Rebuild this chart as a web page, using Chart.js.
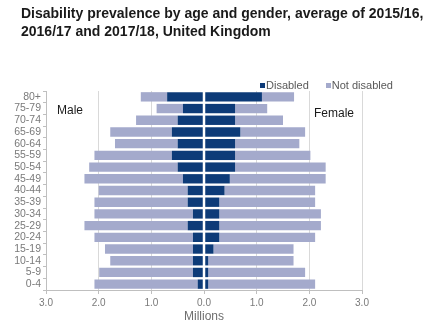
<!DOCTYPE html>
<html>
<head>
<meta charset="utf-8">
<script src="https://cdn.jsdelivr.net/npm/chart.js@4"></script>
<style>
  body { margin: 0; background: #fff; }
  #wrap { position: relative; width: 430px; height: 330px; font-family: "Liberation Sans", Arial, sans-serif; }
  #title { position: absolute; left: 21px; top: 4px; font-size: 14px; font-weight: bold; line-height: 18px; color: #1a1a1a; }
  #legend { position: absolute; left: 260px; top: 79px; font-size: 11px; color: #595959; white-space: nowrap; }
  #legend span.box { display: inline-block; width: 5px; height: 5px; margin-right: 1px; vertical-align: 1px; }
  #legend span.item { margin-right: 17px; }
  .side { position: absolute; font-size: 12px; color: #1a1a1a; }
  canvas { position: absolute; left: 0; top: 0; }
</style>
</head>
<body>
<div id="wrap">
  <canvas id="chart" width="430" height="330"></canvas>
  <div id="title">Disability prevalence by age and gender, average of 2015/16,<br>2016/17 and 2017/18, United Kingdom</div>
  <div id="legend"><span class="item"><span class="box" style="background:#0d3b78"></span>Disabled</span><span><span class="box" style="background:#a4aacc"></span>Not disabled</span></div>
  <div class="side" style="left:57px; top:103px;">Male</div>
  <div class="side" style="left:314px; top:106px;">Female</div>
</div>
<script>
// age bands, top of the pyramid first
const ageGroups = ["80+", "75-79", "70-74", "65-69", "60-64", "55-59", "50-54", "45-49", "40-44",
    "35-39", "30-34", "25-29", "20-24", "15-19", "10-14", "5-9", "0-4"];

// millions
const maleDisabled = [0.70, 0.40, 0.50, 0.61, 0.50, 0.61, 0.50, 0.40, 0.31, 0.31, 0.21, 0.31, 0.21, 0.21, 0.21, 0.21, 0.12];
const maleNotDisabled = [0.50, 0.50, 0.79, 1.17, 1.19, 1.47, 1.68, 1.87, 1.69, 1.77, 1.87, 1.96, 1.87, 1.67, 1.57, 1.78, 1.96];
const femaleDisabled = [1.10, 0.59, 0.59, 0.69, 0.59, 0.59, 0.59, 0.49, 0.39, 0.29, 0.29, 0.29, 0.29, 0.18, 0.08, 0.08, 0.08];
const femaleNotDisabled = [0.61, 0.61, 0.91, 1.23, 1.22, 1.43, 1.72, 1.82, 1.72, 1.82, 1.93, 1.93, 1.82, 1.52, 1.62, 1.84, 2.03];

const xTicks = [-3, -2, -1, 0, 1, 2, 3];

const darkBlue = "#0d3b78";
const lightBlue = "#a4aacc";

// white gap down the middle between male and female bars
const centreGap = {
    id: "centreGap",
    afterDatasetsDraw(chart) {
        const { ctx, chartArea, scales } = chart;
        const x = scales.x.getPixelForValue(0);
        ctx.save();
        ctx.strokeStyle = "#ffffff";
        ctx.lineWidth = 2.5;
        ctx.beginPath();
        ctx.moveTo(x, chartArea.top);
        ctx.lineTo(x, chartArea.bottom);
        ctx.stroke();
        ctx.restore();
    }
};

const ctx = document.getElementById("chart").getContext("2d");
new Chart(ctx, {
    type: "bar",
    data: {
        labels: ageGroups,
        datasets: [
            { label: "Disabled", data: maleDisabled.map((v) => -v), backgroundColor: darkBlue },
            { label: "Not disabled", data: maleNotDisabled.map((v) => -v), backgroundColor: lightBlue },
            { label: "Disabled (female)", data: femaleDisabled, backgroundColor: darkBlue },
            { label: "Not disabled (female)", data: femaleNotDisabled, backgroundColor: lightBlue },
        ],
    },
    options: {
        indexAxis: "y",
        responsive: false,
        animation: false,
        layout: { padding: { top: 91, right: 68, bottom: 0, left: 0 } },
        datasets: { bar: { categoryPercentage: 0.8, barPercentage: 1, borderWidth: 0 } },
        plugins: {
            legend: { display: false },
            title: { display: false },
            tooltip: { enabled: false },
        },
        scales: {
            x: {
                stacked: true,
                min: -3,
                max: 3,
                afterBuildTicks: (scale) => { scale.ticks = xTicks.map((v) => ({ value: v })); },
                afterFit: (scale) => { scale.height = 40; },
                ticks: {
                    callback: (value) => Math.abs(value).toFixed(1),
                    color: "#7a7a7a",
                    font: { family: "Liberation Sans", size: 10 },
                    padding: 3,
                    maxRotation: 0,
                },
                grid: { color: "#d9d9d9", tickLength: 4, tickColor: "#bfbfbf" },
                border: { color: "#bfbfbf" },
                title: {
                    display: true,
                    text: "Millions",
                    color: "#6e6e6e",
                    font: { family: "Liberation Sans", size: 12 },
                    padding: { top: 0, bottom: 6 },
                },
            },
            y: {
                stacked: true,
                afterFit: (scale) => { scale.width = 46; },
                ticks: {
                    color: "#7a7a7a",
                    font: { family: "Liberation Sans", size: 10.5 },
                    padding: 2,
                    autoSkip: false,
                },
                grid: { drawOnChartArea: false, tickLength: 3, color: "#bfbfbf" },
                border: { color: "#bfbfbf" },
            },
        },
    },
    plugins: [centreGap],
});
</script>
</body>
</html>
